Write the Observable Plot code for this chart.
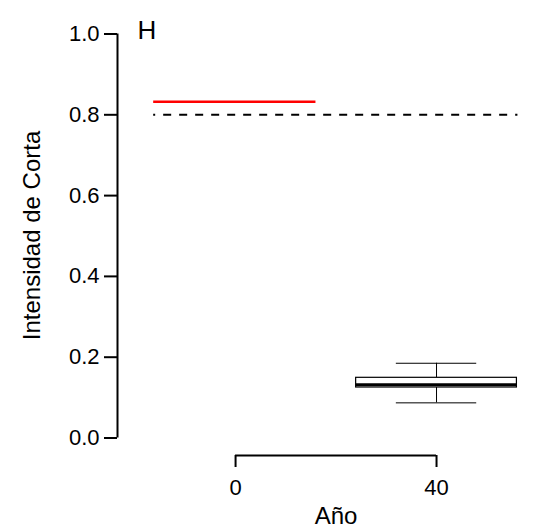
<!DOCTYPE html>
<html>
<head>
<meta charset="utf-8">
<script src="https://cdn.jsdelivr.net/npm/d3@7"></script>
<script src="https://cdn.jsdelivr.net/npm/@observablehq/plot@0.6"></script>
<style>
  html, body { margin: 0; padding: 0; background: #fff; }
  svg { display: block; }
</style>
</head>
<body>
<div id="chart"></div>
<script>
// ---- data ----
const xTicks = [0, 40];
const yTicks = [0, 0.2, 0.4, 0.6, 0.8, 1.0];
const xDomain = [-23.5, 59.5];
const yDomain = [-0.0433, 1];
const plotRegion = [-16.3, 56.2];       // x extent of the plotting region
const refLevel = [0.8];                 // dashed reference line
const redLevel = [0.832];               // red line value
const redSpan = [-16.3, 16];
const boxYear = [40];
const boxHalfWidth = 16;
const capHalfWidth = 8;
const boxMin = [0.087];
const boxQ1 = [0.125];
const boxMedian = [0.132];
const boxQ3 = [0.149];
const boxMax = [0.185];
const panelLabel = ["H"];
const xTitle = ["Año"];
const yTitle = ["Intensidad de Corta"];

const box = boxYear.map((x, i) => ({
  x, min: boxMin[i], q1: boxQ1[i], med: boxMedian[i], q3: boxQ3[i], max: boxMax[i]
}));

const font = "Liberation Sans, Arial, Helvetica, sans-serif";

const chart = Plot.plot({
  width: 534,
  height: 530,
  marginLeft: 117,
  marginRight: 0,
  marginTop: 33.5,
  marginBottom: 75,
  style: { fontFamily: font, background: "#fff" },
  x: { domain: xDomain, axis: null },
  y: { domain: yDomain, axis: null },
  marks: [
    // y axis line and ticks
    Plot.ruleX([xDomain[0]], { y1: yTicks[0], y2: yTicks[yTicks.length - 1], stroke: "black", strokeWidth: 2 }),
    Plot.axisY({ ticks: yTicks, tickFormat: d3.format(".1f"), tickSize: 13, tickPadding: 5, fontSize: 22, strokeWidth: 2, anchor: "left", label: null }),
    // x axis bracket and ticks
    Plot.ruleY([yDomain[0]], { x1: xTicks[0], x2: xTicks[xTicks.length - 1], stroke: "black", strokeWidth: 2 }),
    Plot.axisX({ ticks: xTicks, tickFormat: d3.format("d"), tickSize: 12, tickPadding: 12, fontSize: 22, strokeWidth: 2, anchor: "bottom", label: null }),
    // dashed reference
    Plot.ruleY(refLevel, { x1: plotRegion[0], x2: plotRegion[1], stroke: "black", strokeWidth: 2, strokeDasharray: "8,8", strokeDashoffset: 6 }),
    // red line
    Plot.ruleY(redLevel, { x1: redSpan[0], x2: redSpan[1], stroke: "#ff0000", strokeWidth: 2.5 }),
    // boxplot
    Plot.ruleX(box, { x: "x", y1: "q3", y2: "max", stroke: "black", strokeWidth: 1 }),
    Plot.ruleX(box, { x: "x", y1: "min", y2: "q1", stroke: "black", strokeWidth: 1 }),
    Plot.ruleY(box, { y: "max", x1: d => d.x - capHalfWidth, x2: d => d.x + capHalfWidth, stroke: "black", strokeWidth: 1 }),
    Plot.ruleY(box, { y: "min", x1: d => d.x - capHalfWidth, x2: d => d.x + capHalfWidth, stroke: "black", strokeWidth: 1 }),
    Plot.rect(box, { x1: d => d.x - boxHalfWidth, x2: d => d.x + boxHalfWidth, y1: "q1", y2: "q3", fill: "white", stroke: "black", strokeWidth: 1.2 }),
    Plot.ruleY(box, { y: "med", x1: d => d.x - boxHalfWidth, x2: d => d.x + boxHalfWidth, stroke: "black", strokeWidth: 3 }),
    // text
    Plot.text(panelLabel, { frameAnchor: "top-left", textAnchor: "start", lineAnchor: "top", dx: 20, dy: -13.5, fontSize: 26, fill: "black" }),
    Plot.text(xTitle, { frameAnchor: "bottom", textAnchor: "middle", lineAnchor: "middle", dx: 10, dy: 60.4, fontSize: 24, fill: "black" }),
    Plot.text(yTitle, { frameAnchor: "left", textAnchor: "middle", lineAnchor: "middle", rotate: -90, dx: -85.5, dy: -9.25, fontSize: 24, fill: "black" })
  ]
});

document.getElementById("chart").appendChild(chart);
</script>
</body>
</html>
